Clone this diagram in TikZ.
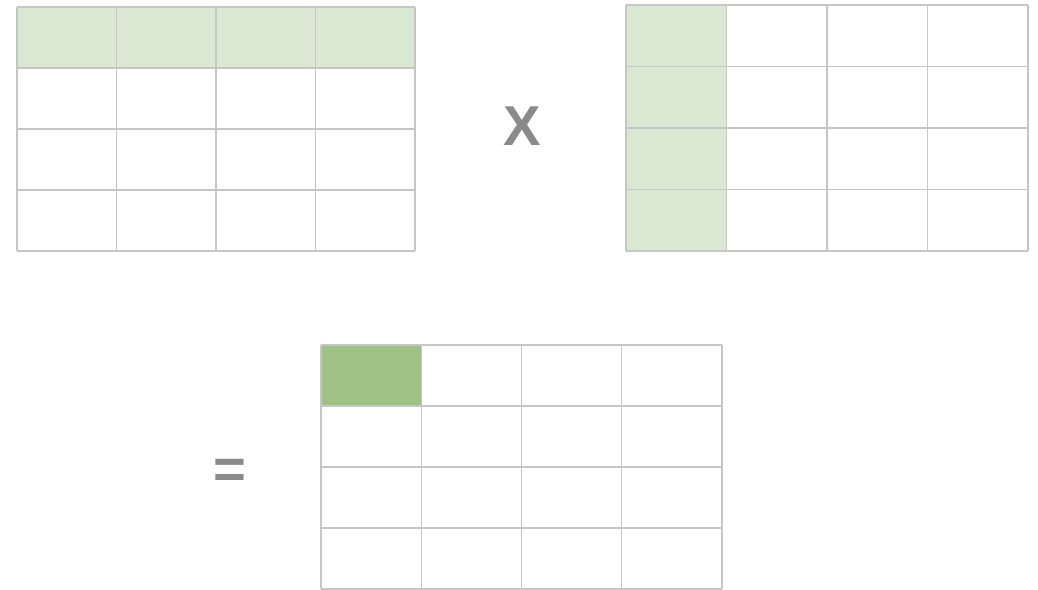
\documentclass[tikz,border=0pt]{standalone}
\usepackage{fontspec}
\setsansfont{Liberation Sans}
\usetikzlibrary{positioning}
\usepackage{xcolor}
\definecolor{rowgreen}{HTML}{DAE8D3}
\definecolor{cellgreen}{HTML}{9DC284}
\definecolor{gridgray}{HTML}{C6C6C6}
\definecolor{signgray}{HTML}{8A8A8A}

\begin{document}
\begin{tikzpicture}[x=0.02cm, y=-0.02cm,
  gridline/.style={gridgray, line width=0.8pt},
  sign/.style={signgray, inner sep=0pt, font=\sffamily\bfseries\fontsize{32}{32}\selectfont}]
  \useasboundingbox[fill=white] (0,0) rectangle (1038,590);
  % left matrix, first row shaded
  \fill[rowgreen] (17,7) rectangle (415,68);
  \foreach \i in {0,...,4} {
    \draw[gridline] (17+99.5*\i,7) -- (17+99.5*\i,251);
    \draw[gridline] (17,7+61*\i) -- (415,7+61*\i);
  }
  % right matrix, first column shaded
  \fill[rowgreen] (626,5) rectangle (726.5,251);
  \foreach \i in {0,...,4} {
    \draw[gridline] (626+100.5*\i,5) -- (626+100.5*\i,251);
    \draw[gridline] (626,5+61.5*\i) -- (1028,5+61.5*\i);
  }
  % result matrix, first cell shaded
  \fill[cellgreen] (321,345) rectangle (421.25,406);
  \foreach \i in {0,...,4} {
    \draw[gridline] (321+100.25*\i,345) -- (321+100.25*\i,589);
    \draw[gridline] (321,345+61*\i) -- (722,345+61*\i);
  }
  % signs
  \node[sign] (times) at (522,126) {X};
  \node[sign] (equals) at (230,474) {=};
\end{tikzpicture}
\end{document}
